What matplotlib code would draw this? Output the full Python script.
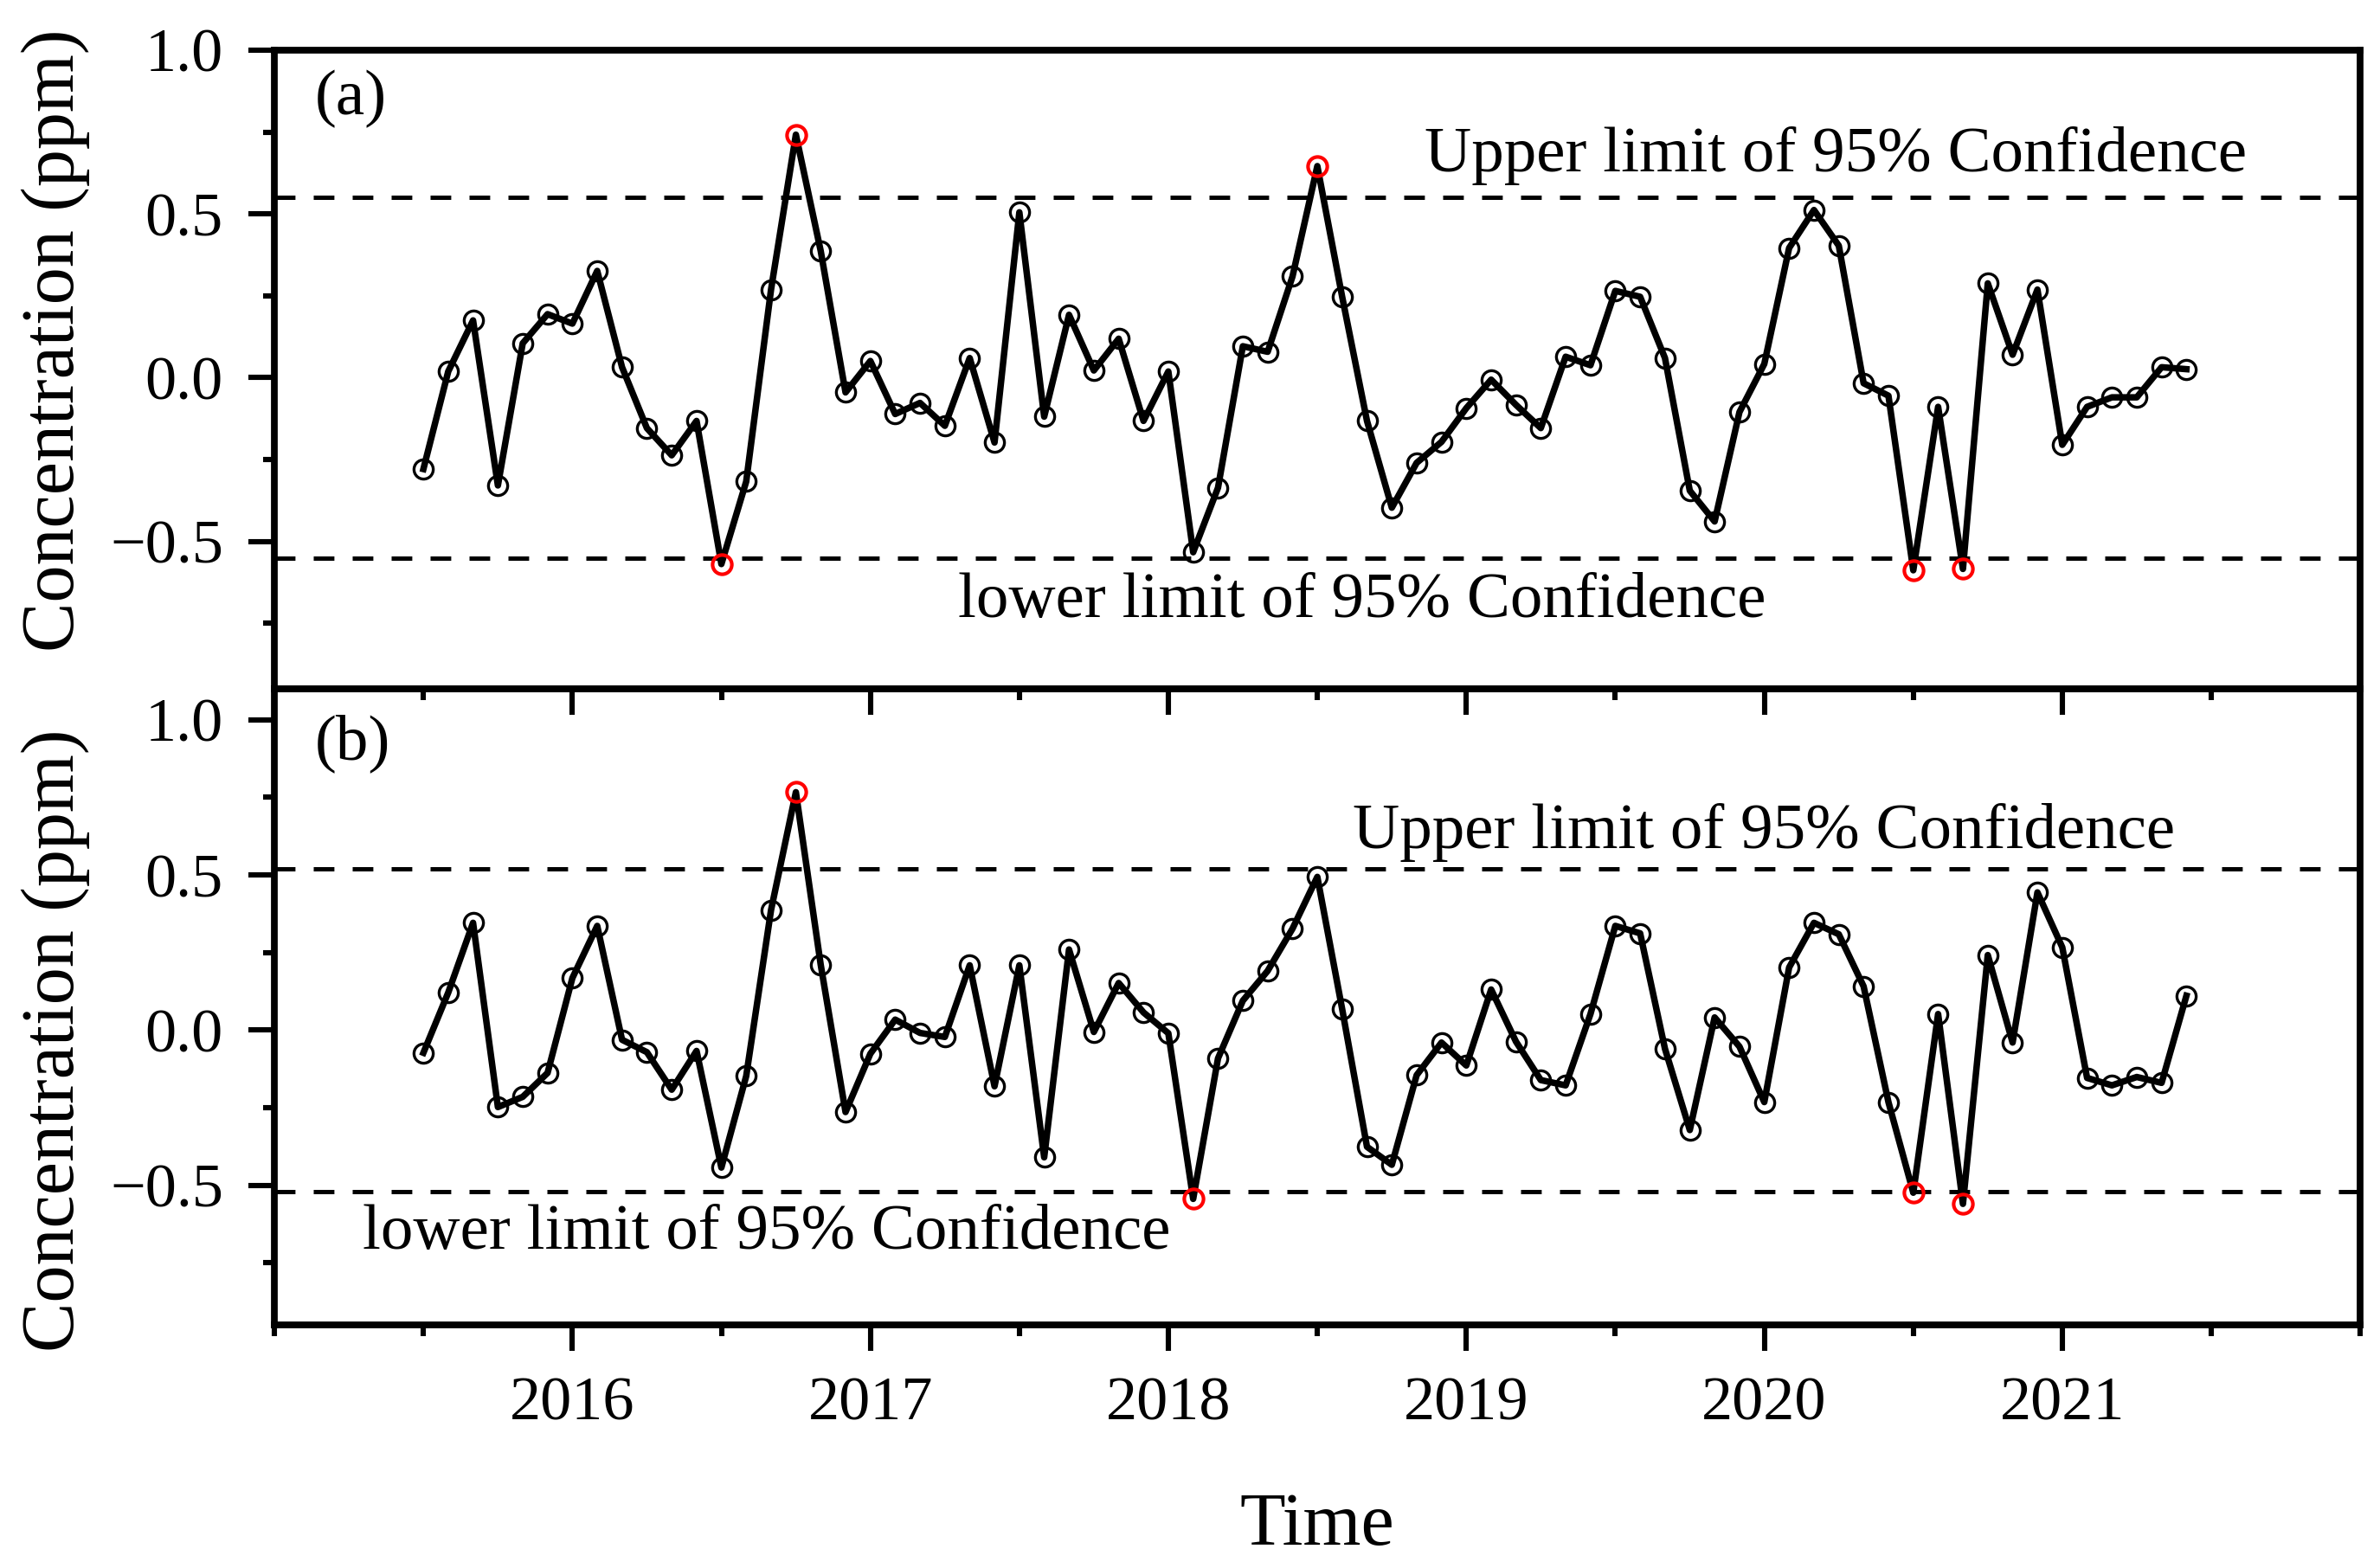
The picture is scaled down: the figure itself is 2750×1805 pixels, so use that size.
import matplotlib
matplotlib.use('Agg')
import matplotlib.pyplot as plt
import numpy as np
import pandas as pd
from matplotlib.ticker import FixedLocator, MultipleLocator, FuncFormatter

plt.rcParams['font.family'] = ['Liberation Serif', 'DejaVu Serif']

# monthly samples, July 2015 .. June 2021
months = pd.date_range('2015-07-01', periods=72, freq='MS')
time = np.asarray(months.year + (months.month - 1) / 12.0)

# (a) concentration anomaly (ppm)
conc_a = [-0.279, 0.019, 0.175, -0.329, 0.105, 0.194, 0.165, 0.326, 0.032, -0.154,
          -0.237, -0.132, -0.569, -0.317, 0.269, 0.742, 0.387, -0.045, 0.051, -0.111,
          -0.077, -0.147, 0.060, -0.198, 0.505, -0.119, 0.192, 0.022, 0.119, -0.132,
          0.019, -0.533, -0.336, 0.096, 0.079, 0.309, 0.646, 0.247, -0.132, -0.397,
          -0.260, -0.196, -0.093, -0.006, -0.083, -0.154, 0.064, 0.038, 0.265, 0.247,
          0.060, -0.345, -0.439, -0.105, 0.042, 0.396, 0.512, 0.403, -0.017, -0.055,
          -0.588, -0.089, -0.584, 0.288, 0.070, 0.269, -0.205, -0.089, -0.060, -0.060,
          0.032, 0.026]

# (b) concentration anomaly (ppm)
conc_b = [-0.073, 0.121, 0.346, -0.248, -0.215, -0.138, 0.168, 0.336, -0.031, -0.071,
          -0.192, -0.067, -0.443, -0.148, 0.387, 0.767, 0.211, -0.264, -0.076, 0.034,
          -0.009, -0.022, 0.209, -0.181, 0.209, -0.410, 0.260, -0.006, 0.152, 0.057,
          -0.010, -0.544, -0.091, 0.095, 0.191, 0.327, 0.494, 0.068, -0.376, -0.434,
          -0.145, -0.040, -0.114, 0.131, -0.037, -0.161, -0.178, 0.052, 0.336, 0.312,
          -0.060, -0.322, 0.041, -0.053, -0.232, 0.202, 0.346, 0.309, 0.141, -0.232,
          -0.524, 0.052, -0.560, 0.242, -0.040, 0.444, 0.267, -0.154, -0.178, -0.151,
          -0.170, 0.111]

# 95% confidence limits
limit_a = 0.55
limit_b = 0.52

year_ticks = [2016, 2017, 2018, 2019, 2020, 2021]

LW_SPINE = 2.8
FS_TICK = 26
FS_LABEL = 31
FS_NOTE = 27


def minus_fmt(v, pos):
    return f'{v:.1f}'.replace('-', '\u2212')


def draw_panel(ax, values, limit, ylim, tag, tag_y, upper_xy, lower_xy, show_xlabels):
    values = np.asarray(values)
    out = np.abs(values) > limit

    ax.plot(time, values, color='black', lw=2.7, zorder=3)
    ax.plot(time[~out], values[~out], ls='none', marker='o', ms=8, mfc='none',
            mec='black', mew=1.2, zorder=4)
    ax.plot(time[out], values[out], ls='none', marker='o', ms=8, mfc='none',
            mec='red', mew=1.5, zorder=5)

    dash = (0, (8.6 / 1.8, 7.6 / 1.8))
    ax.axhline(limit, color='black', lw=1.8, ls=dash, zorder=2)
    ax.axhline(-limit, color='black', lw=1.8, ls=dash, zorder=2)

    ax.text(upper_xy[0], upper_xy[1], 'Upper limit of 95% Confidence',
            fontsize=FS_NOTE, va='baseline', ha='left')
    ax.text(lower_xy[0], lower_xy[1], 'lower limit of 95% Confidence',
            fontsize=FS_NOTE, va='baseline', ha='left')
    ax.text(0.0195, tag_y, tag, transform=ax.transAxes, fontsize=FS_NOTE,
            va='baseline', ha='left')

    ax.set_xlim(2015, 2022)
    ax.set_ylim(*ylim)
    ax.xaxis.set_major_locator(FixedLocator(year_ticks))
    ax.xaxis.set_minor_locator(MultipleLocator(0.5))
    ax.yaxis.set_major_locator(FixedLocator([-0.5, 0.0, 0.5, 1.0]))
    ax.yaxis.set_minor_locator(FixedLocator([-0.75, -0.25, 0.25, 0.75]))
    ax.yaxis.set_major_formatter(FuncFormatter(minus_fmt))
    ax.xaxis.set_major_formatter(FuncFormatter(lambda v, p: f'{int(round(v))}'))

    ax.tick_params(which='major', direction='out', length=10.8, width=2.2,
                   labelsize=FS_TICK, pad=10.5)
    ax.tick_params(which='minor', direction='out', length=4.7, width=2.2)
    ax.tick_params(axis='x', which='both', labelbottom=show_xlabels, top=False)
    ax.tick_params(axis='y', which='both', right=False)
    for s in ax.spines.values():
        s.set_linewidth(LW_SPINE)


fig = plt.figure(figsize=(13.75, 9.025), dpi=200)
ax_a = fig.add_axes([0.1153, 0.559, 0.8764, 0.4089])
ax_b = fig.add_axes([0.1153, 0.1518, 0.8764, 0.4072])
ax_b.patch.set_visible(False)

draw_panel(ax_a, conc_a, limit_a, (-0.95, 1.0), '(a)', 0.90,
           (2018.86, 0.63), (2017.295, -0.73), False)
draw_panel(ax_b, conc_b, limit_b, (-0.95, 1.1), '(b)', 0.89,
           (2018.62, 0.588), (2015.296, -0.704), True)

fig.text(0.0309, 0.7823, 'Concentration (ppm)', rotation=90, rotation_mode='anchor',
         ha='center', va='baseline', fontsize=FS_LABEL)
fig.text(0.0309, 0.334, 'Concentration (ppm)', rotation=90, rotation_mode='anchor',
         ha='center', va='baseline', fontsize=FS_LABEL)
fig.text(0.5535, 0.011, 'Time', ha='center', va='baseline', fontsize=FS_LABEL)

fig.savefig('out.png', dpi=200, facecolor='white')
